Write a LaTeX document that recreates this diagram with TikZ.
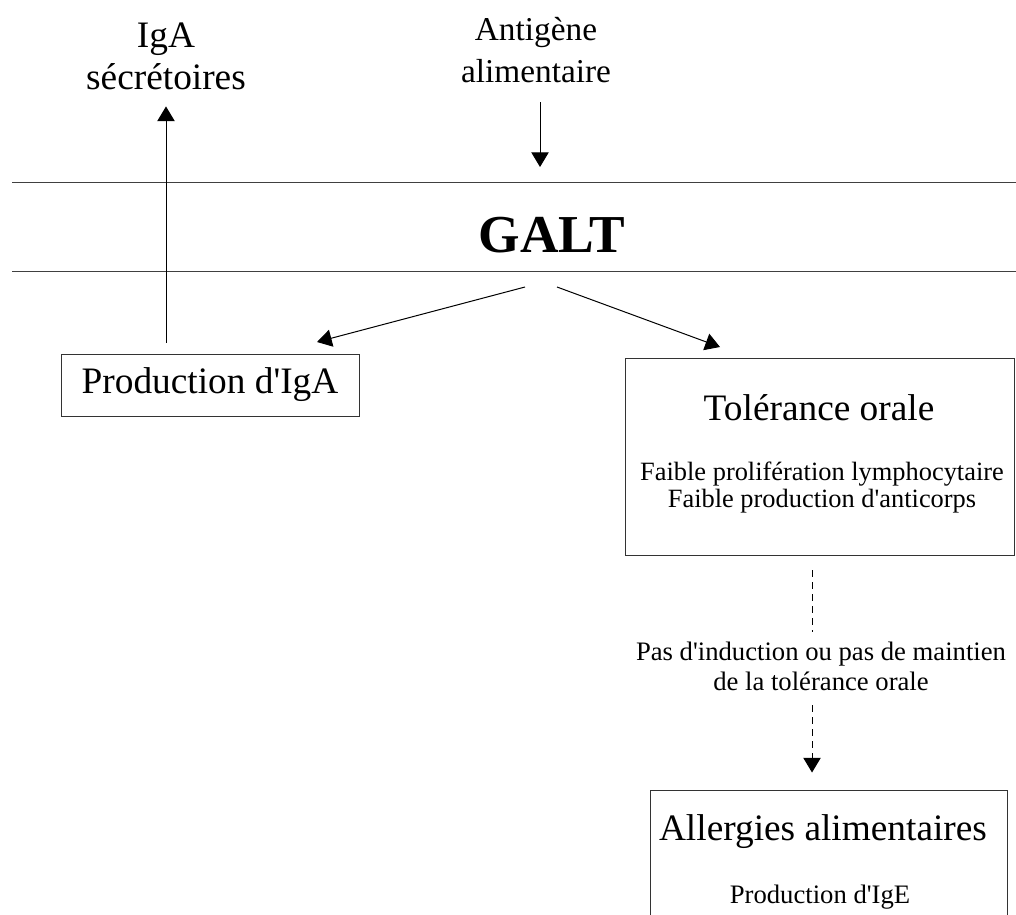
\documentclass[tikz,border=0pt]{standalone}
\usepackage{fontspec}
\setmainfont{Liberation Serif}[Ligatures=TeXOff]
\usetikzlibrary{arrows.meta}

\tikzset{
  grand/.style={font=\fontsize{28}{31.5}\selectfont, inner sep=0pt, align=center},
  petit/.style={font=\fontsize{20}{22.5}\selectfont, inner sep=0pt, align=center},
  boite/.style={draw=black!80, line width=0.75pt, inner sep=0pt},
  fleche/.style={-{Triangle[length=11pt,width=13pt]}, line width=0.75pt},
  tiret/.style={line width=0.75pt, dash pattern=on 5.5pt off 3.5pt},
}

\begin{document}
\begin{tikzpicture}[x=0.75pt, y=-0.75pt, line join=miter]
  \clip (0,0) rectangle (1016,914);
  % muqueuse
  \coordinate (hautg) at (12,182);
  \coordinate (hautd) at (1016,182);
  \coordinate (basg) at (12,271);
  \coordinate (basd) at (1016,271);
  \draw[line width=0.75pt, black!75] (hautg) -- (hautd);
  \draw[line width=0.75pt, black!75] (basg) -- (basd);
  \node[font=\fontsize{40}{40}\selectfont\bfseries, inner sep=0pt, anchor=base] (galt) at (552,252) {GALT};

  % textes du haut
  \node[grand] (iga) at (166,56.7) {IgA\\sécrétoires};
  \node[grand, font=\fontsize{25}{31.5}\selectfont] (antigene) at (536,49.7) {Antigène\\alimentaire};

  % boites
  \node[boite, grand, minimum width=223.5pt, minimum height=46.5pt] (prod) at (210,385) {Production d'IgA};
  \node[boite, minimum width=291.75pt, minimum height=147.75pt] (tol) at (819.5,456.5) {};
  \node[grand, anchor=base] (toltitre) at (819,420) {Tolérance orale};
  \node[petit, font=\fontsize{19.8}{20.25}\selectfont] (toltexte) at (822,487.3) {Faible prolifération lymphocytaire\\Faible production d'anticorps};
  \node[petit] (pas) at (821,665.9) {Pas d'induction ou pas de maintien\\de la tolérance orale};
  \node[boite, minimum width=267.75pt, minimum height=142.5pt] (allergie) at (828.5,885) {};
  \node[grand, anchor=base] (allergietitre) at (823,840) {Allergies alimentaires};
  \node[petit, anchor=base] (ige) at (820,903) {Production d'IgE};

  % fleches
  \coordinate (entree) at (540,102);
  \coordinate (sortieg) at (525,287);
  \coordinate (sortied) at (557,287);
  \coordinate (versprod) at (317,342);
  \coordinate (verstol) at (720,347);
  \coordinate (pointa) at (812,570);
  \coordinate (pointb) at (812,632);
  \coordinate (pointc) at (812,705);
  \draw[fleche, shorten >=11.25pt] (entree) -- (entree |- hautg);
  \draw[fleche, shorten <=8.25pt, shorten >=12pt] (prod.north -| iga) -- (iga.south);
  \draw[fleche] (sortieg) -- (versprod);
  \draw[fleche] (sortied) -- (verstol);
  \draw[tiret] (pointa) -- (pointb);
  \draw[tiret, fleche, shorten >=12.75pt] (pointc) -- (allergie.north -| pointc);
\end{tikzpicture}
\end{document}
